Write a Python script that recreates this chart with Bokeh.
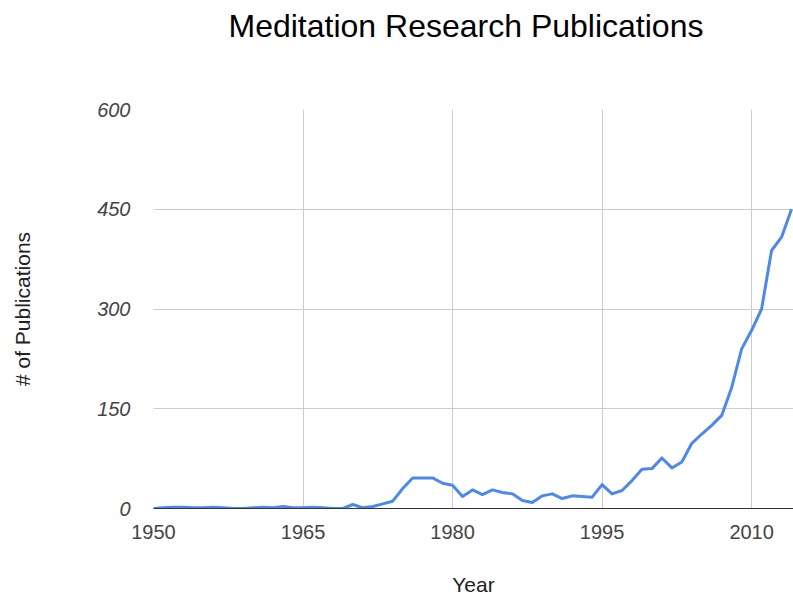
from bokeh.plotting import figure
from bokeh.models import FixedTicker, Title, ColumnDataSource
from bokeh.embed import file_html
from bokeh.resources import INLINE

years = list(range(1950, 2015))
publications = [0, 1, 2, 2, 1, 1, 2, 1, 0, 0,
                1, 2, 1, 3, 1, 1, 2, 1, 0, 0,
                6, 1, 3, 7, 11, 30, 46, 46, 46, 38,
                35, 18, 28, 21, 28, 24, 22, 12, 9, 19,
                22, 15, 19, 18, 17, 36, 22, 27, 42, 59,
                60, 76, 61, 70, 98, 112, 125, 140, 182, 240,
                268, 300, 388, 408, 450]
x_ticks = [1950, 1965, 1980, 1995, 2010]
y_ticks = [0, 150, 300, 450, 600]
title_text = "Meditation Research Publications"

FONT = "Liberation Sans"

p = figure(width=793, height=598, output_backend="svg", toolbar_location=None,
           x_range=(1950, 2014.2), y_range=(0, 600),
           min_border_left=153, min_border_right=0, min_border_top=109,
           min_border_bottom=90)
p.outline_line_color = None
p.background_fill_color = "white"
p.border_fill_color = "white"

src = ColumnDataSource(dict(year=years, pubs=publications))
p.line("year", "pubs", source=src, line_color="#4d88ec", line_width=3,
       line_join="round")

p.xaxis.ticker = FixedTicker(ticks=x_ticks)
p.yaxis.ticker = FixedTicker(ticks=y_ticks)
p.xgrid.ticker = FixedTicker(ticks=x_ticks)
p.ygrid.ticker = FixedTicker(ticks=y_ticks)
p.xgrid.grid_line_color = "#cccccc"
p.ygrid.grid_line_color = "#cccccc"
p.xgrid.grid_line_width = 1
p.ygrid.grid_line_width = 1

for ax in (p.xaxis, p.yaxis):
    ax.major_tick_line_color = None
    ax.minor_tick_line_color = None
    ax.major_label_text_font = FONT
    ax.major_label_text_font_size = "20px"
    ax.major_label_text_color = "#444444"
    ax.axis_label_text_font = FONT
    ax.axis_label_text_font_size = "21px"
    ax.axis_label_text_font_style = "normal"
    ax.axis_label_text_color = "#222222"

p.yaxis.axis_line_color = None
p.yaxis.major_label_text_font_style = "italic"
p.yaxis.major_label_standoff = 17
p.yaxis.axis_label = "# of Publications"
p.yaxis.axis_label_standoff = 60

p.xaxis.axis_line_color = "#333333"
p.xaxis.axis_line_width = 1
p.xaxis.major_label_standoff = 10
p.xaxis.axis_label = "Year"
p.xaxis.axis_label_standoff = 31

# blank spacer between the plot area and the title
p.add_layout(Title(text=" ", text_font_size="1px", standoff=63), "above")

p.title = Title(text=title_text, align="left", offset=75,
                vertical_align="bottom",
                text_font=FONT, text_font_size="32px", text_font_style="normal",
                text_color="#000000", standoff=0)

open("out.html", "w").write(file_html(p, INLINE))
